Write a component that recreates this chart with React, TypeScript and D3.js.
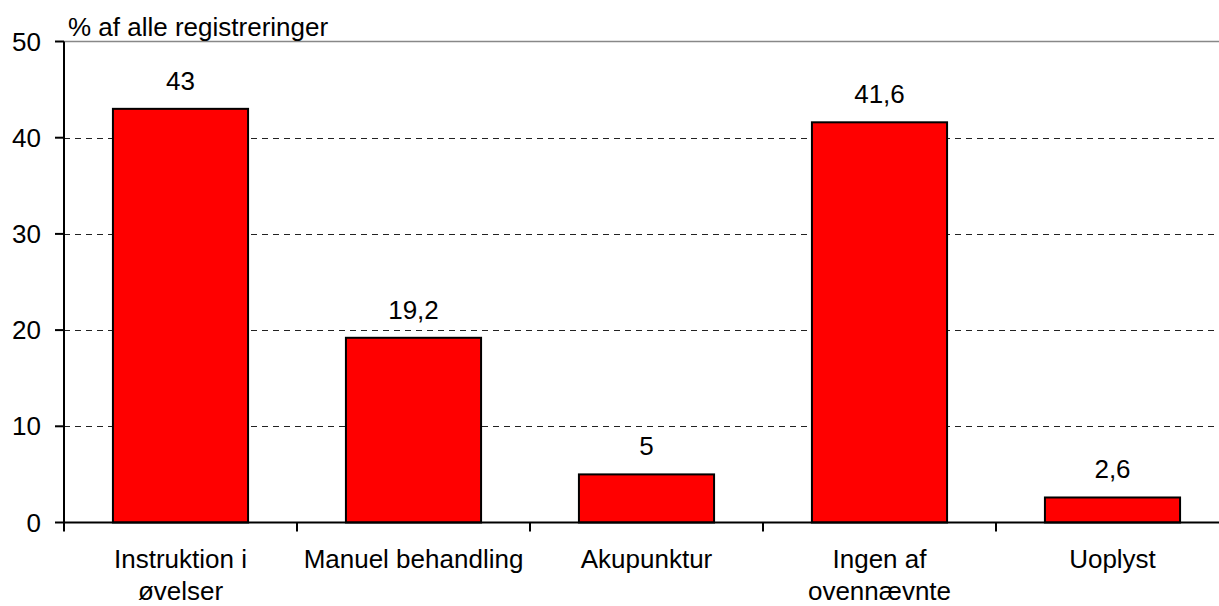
import React, { useEffect, useRef } from 'react';
import * as d3 from 'd3';

const categories = ['Instruktion i\nøvelser', 'Manuel behandling', 'Akupunktur', 'Ingen af\novennævnte', 'Uoplyst'];
const values = [43, 19.2, 5, 41.6, 2.6];
const yTicks = [0, 10, 20, 30, 40, 50];
const yTitle = '% af alle registreringer';

const W = 1219;
const H = 606;
const left = 64;
const right = 1229;
const top = 41.5;
const bottom = 522.5;
const font = '"Liberation Sans", Arial, sans-serif';
const fs = 26;

export default function App() {
  const ref = useRef<SVGSVGElement>(null);

  useEffect(() => {
    const svg = d3.select(ref.current);
    svg.selectAll('*').remove();

    const x = d3.scaleBand<string>()
      .domain(categories)
      .range([left, right])
      .paddingInner(0.42)
      .paddingOuter(0.21);
    const y = d3.scaleLinear().domain([0, 50]).range([bottom, top]);

    // top border
    svg.append('line')
      .attr('x1', left).attr('x2', right)
      .attr('y1', y(50)).attr('y2', y(50))
      .attr('stroke', '#888').attr('stroke-width', 1.5);

    // dashed gridlines
    svg.selectAll('.grid')
      .data(yTicks.filter(t => t > 0 && t < 50))
      .enter()
      .append('line')
      .attr('x1', left).attr('x2', right)
      .attr('y1', d => Math.round(y(d)) + 0.5).attr('y2', d => Math.round(y(d)) + 0.5)
      .attr('stroke', '#222')
      .attr('stroke-width', 1)
      .attr('stroke-dasharray', '6,5');

    // bars
    svg.selectAll('rect')
      .data(values)
      .enter()
      .append('rect')
      .attr('x', (_, i) => x(categories[i])!)
      .attr('y', d => y(d))
      .attr('width', x.bandwidth())
      .attr('height', d => y(0) - y(d))
      .attr('fill', '#ff0000')
      .attr('stroke', '#000')
      .attr('stroke-width', 2);

    // value labels
    svg.selectAll('.val')
      .data(values)
      .enter()
      .append('text')
      .attr('x', (_, i) => x(categories[i])! + x.bandwidth() / 2)
      .attr('y', d => y(d) - 19)
      .attr('text-anchor', 'middle')
      .attr('font-family', font)
      .attr('font-size', fs)
      .attr('fill', '#000')
      .text(d => String(d).replace('.', ','));

    // y axis
    svg.append('line')
      .attr('x1', left).attr('x2', left)
      .attr('y1', y(50)).attr('y2', y(0))
      .attr('stroke', '#000').attr('stroke-width', 2);
    svg.selectAll('.ytick')
      .data(yTicks)
      .enter()
      .append('line')
      .attr('x1', left - 9).attr('x2', left)
      .attr('y1', d => y(d)).attr('y2', d => y(d))
      .attr('stroke', '#000').attr('stroke-width', 2);
    svg.selectAll('.ylab')
      .data(yTicks)
      .enter()
      .append('text')
      .attr('x', 41)
      .attr('y', d => y(d) + 9)
      .attr('text-anchor', 'end')
      .attr('font-family', font)
      .attr('font-size', fs)
      .attr('fill', '#000')
      .text(d => d);

    // x axis
    svg.append('line')
      .attr('x1', left).attr('x2', right)
      .attr('y1', y(0)).attr('y2', y(0))
      .attr('stroke', '#000').attr('stroke-width', 2);
    const step = x.step();
    svg.selectAll('.xtick')
      .data(d3.range(categories.length + 1))
      .enter()
      .append('line')
      .attr('x1', i => left + i * step).attr('x2', i => left + i * step)
      .attr('y1', y(0)).attr('y2', y(0) + 9)
      .attr('stroke', '#000').attr('stroke-width', 2);

    const labels = svg.selectAll('.xlab')
      .data(categories)
      .enter()
      .append('text')
      .attr('text-anchor', 'middle')
      .attr('font-family', font)
      .attr('font-size', fs)
      .attr('fill', '#000');
    labels.each(function (d) {
      const t = d3.select(this);
      d.split('\n').forEach((line, k) => {
        t.append('tspan')
          .attr('x', x(d)! + x.bandwidth() / 2)
          .attr('y', 568 + k * 32)
          .text(line);
      });
    });

    // y title
    svg.append('text')
      .attr('x', 68)
      .attr('y', 36)
      .attr('font-family', font)
      .attr('font-size', fs)
      .attr('fill', '#000')
      .text(yTitle);
  }, []);

  return (
    <svg
      ref={ref}
      width={W}
      height={H}
      style={{ position: 'absolute', left: 0, top: 0, background: '#fff' }}
    />
  );
}
